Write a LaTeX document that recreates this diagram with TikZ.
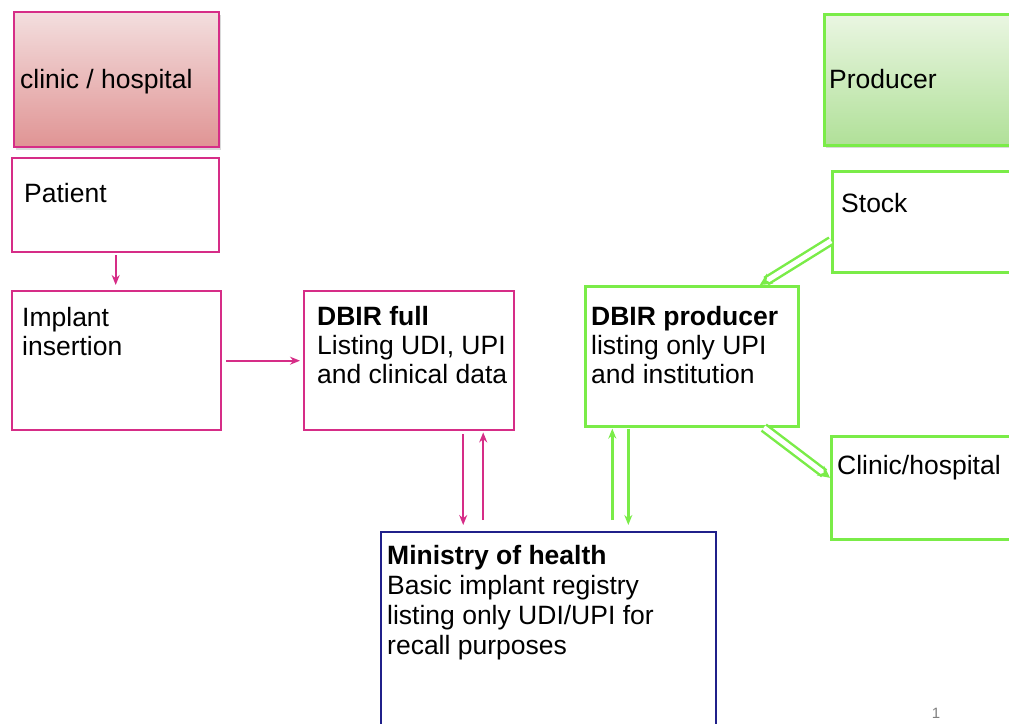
\documentclass[tikz,border=0pt]{standalone}
\usepackage{fontspec}
\setmainfont{Liberation Sans}
\usepackage{tikz}
\usetikzlibrary{arrows.meta,positioning,shadows}

\definecolor{hospline}{RGB}{214,45,135}
\definecolor{hosptop}{RGB}{243,222,222}
\definecolor{hospbot}{RGB}{224,148,148}
\definecolor{prodline}{RGB}{122,236,72}
\definecolor{prodtop}{RGB}{234,246,226}
\definecolor{prodbot}{RGB}{176,224,152}
\definecolor{minline}{RGB}{32,32,138}

\newcommand{\boxlines}[1]{\parbox[t]{320pt}{\raggedright #1}}

\begin{document}
\begin{tikzpicture}[x=1pt, y=-1pt, >={Stealth[length=10pt,width=8pt]},
	font=\fontsize{26.5}{29}\selectfont]

	\tikzstyle{hbox}=[draw=hospline, line width=2.4pt, rectangle, anchor=north west, inner sep=0]
	\tikzstyle{pbox}=[draw=prodline, line width=2.6pt, rectangle, anchor=north west, inner sep=0]
	\tikzstyle{mbox}=[draw=minline, line width=2.2pt, rectangle, anchor=north west, inner sep=0]
	\tikzstyle{head}=[drop shadow={shadow xshift=1.5pt, shadow yshift=-2.5pt, opacity=0.3}]
	\tikzstyle{txt}=[anchor=base west, inner sep=0]
	\tikzstyle{harrow}=[->, draw=hospline, line width=2.2pt]
	\tikzstyle{parrow}=[->, draw=prodline, line width=2.4pt]
	\tikzstyle{dblarrow}=[-{Stealth[length=12pt,width=12pt]}, draw=prodline, double=white,
		double distance=5pt, line width=2.5pt]

	\path[use as bounding box] (0,0) rectangle (1009,723);
	\clip (0,0) rectangle (1009,723);

	% clinic side
	\node[hbox, head, top color=hosptop, bottom color=hospbot,
		minimum width=205pt, minimum height=135pt] (hosp) at (13,11) {};
	\node[hbox, minimum width=207pt, minimum height=94pt] (patient) at (11,157) {};
	\node[hbox, minimum width=209pt, minimum height=139pt] (implant) at (11,290) {};
	\node[hbox, minimum width=210pt, minimum height=139pt] (dbirfull) at (303,290) {};

	% producer side
	\node[pbox, head, top color=prodtop, bottom color=prodbot,
		minimum width=200pt, minimum height=131pt] (prod) at (823,13) {};
	\node[pbox, minimum width=213pt, minimum height=140pt] (dbirprod) at (584,285) {};
	\node[pbox, minimum width=200pt, minimum height=101pt] (stock) at (831,170) {};
	\node[pbox, minimum width=200pt, minimum height=103pt] (clinic) at (830,435) {};

	% ministry
	\node[mbox, minimum width=335pt, minimum height=210pt] (ministry) at (380,531) {};

	% texts
	\node[txt] (hosp-t) at (20,88) {clinic / hospital};
	\node[txt] (prod-t) at (829,88) {Producer};
	\node[txt] (patient-t) at (24,202) {Patient};
	\node[txt] (implant-t) at (22,326) {\boxlines{Implant\\insertion}};
	\node[txt] (dbirfull-t) at (317,325)
		{\boxlines{\textbf{DBIR full}\\Listing UDI, UPI\\and clinical data}};
	\node[txt] (dbirprod-t) at (591,325)
		{\boxlines{\textbf{DBIR producer}\\listing only UPI\\and institution}};
	\node[txt] (stock-t) at (841,212) {Stock};
	\node[txt] (clinic-t) at (837,474) {Clinic/hospital};
	\node[txt, font=\fontsize{26.5}{30}\selectfont] (ministry-t) at (387,564)
		{\boxlines{\textbf{Ministry of health}\\Basic implant registry\\listing only UDI/UPI for\\recall purposes}};
	\node[text=gray, font=\fontsize{15}{15}\selectfont, inner sep=0] (pagenum) at (936,713) {1};

	% pink flow
	\draw[harrow, shorten <=2pt, shorten >=5pt] (patient.south) -- (patient.south |- implant.north);
	\draw[harrow, shorten <=4pt, shorten >=3pt] (implant.east) -- (dbirfull.west);
	\draw[harrow, shorten <=3pt, shorten >=6pt] ([xshift=54pt]dbirfull.south)
		-- ([xshift=54pt]dbirfull.south |- ministry.north);
	\draw[harrow, shorten <=11pt, shorten >=1pt] ([xshift=74pt]dbirfull.south |- ministry.north)
		-- ([xshift=74pt]dbirfull.south);

	% green flow
	\draw[parrow, shorten <=11pt, shorten >=1pt] ([xshift=-79.5pt]dbirprod.south |- ministry.north)
		-- ([xshift=-79.5pt]dbirprod.south);
	\draw[parrow, shorten <=1pt, shorten >=6pt] ([xshift=-63.5pt]dbirprod.south)
		-- ([xshift=-63.5pt]dbirprod.south |- ministry.north);
	\draw[dblarrow] ([yshift=-19pt]stock.west) -- ([xshift=68pt]dbirprod.north);
	\draw[dblarrow] ([xshift=72pt]dbirprod.south) -- ([yshift=10pt]clinic.west);

\end{tikzpicture}
\end{document}
